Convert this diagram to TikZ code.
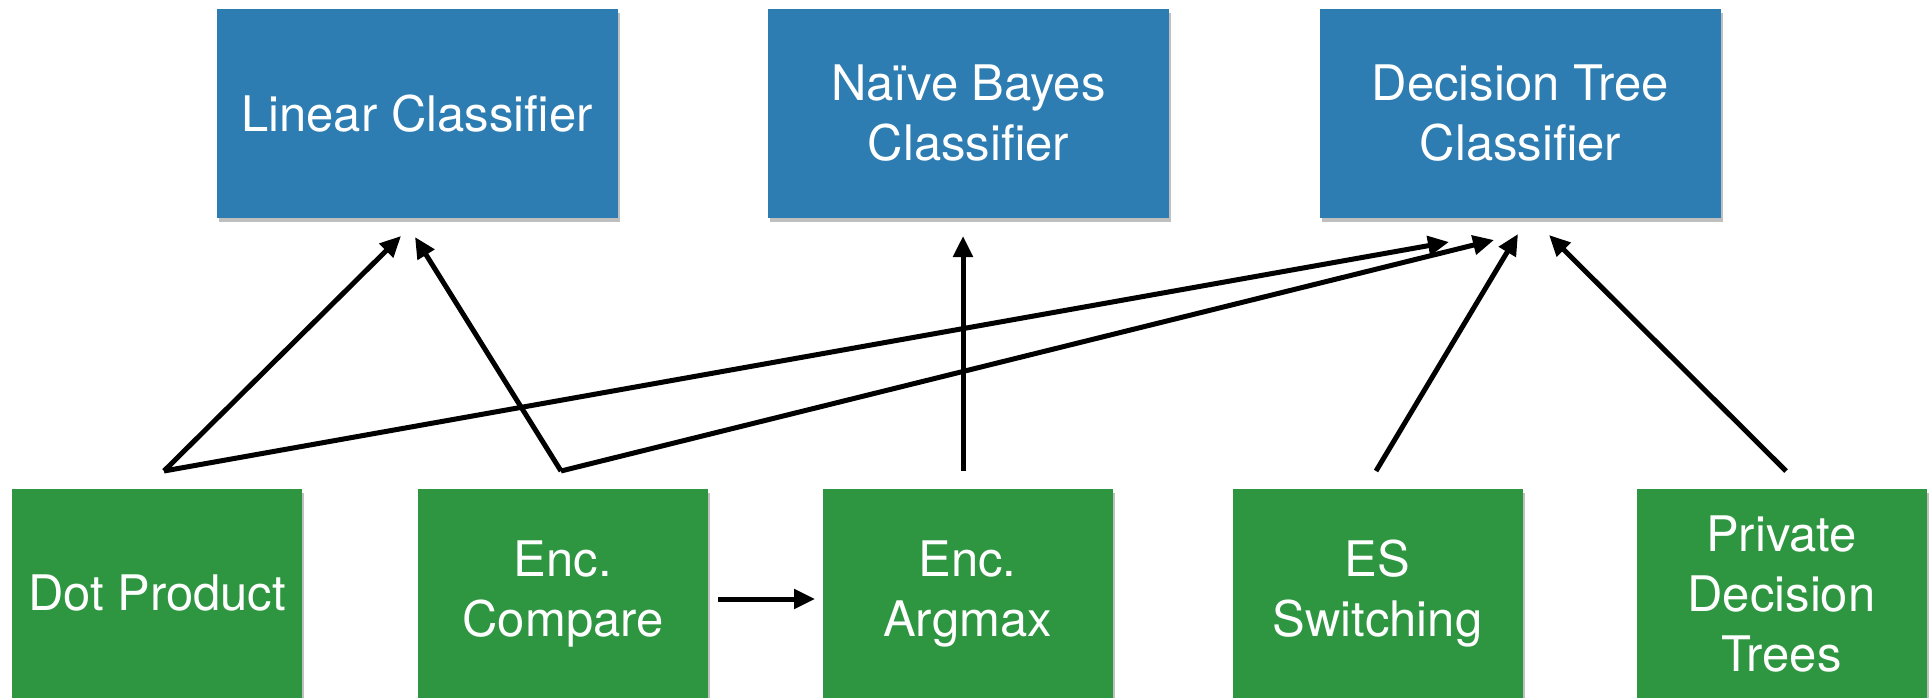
\documentclass[tikz,border=0pt]{standalone}
\usepackage{fontspec}
\setmainfont{TeX Gyre Heros}
\usetikzlibrary{arrows.meta,shadows}
\definecolor{boxblue}{RGB}{45,125,178}
\definecolor{boxgreen}{RGB}{46,150,65}
\tikzset{
  box/.style={rectangle, minimum height=209pt, inner sep=0pt, align=center,
    text=white, font=\fontsize{49}{60}\selectfont,
    drop shadow={fill=black, opacity=0.25, shadow xshift=2pt, shadow yshift=-4pt}},
  clsbox/.style={box, fill=boxblue, minimum width=401pt},
  techbox/.style={box, fill=boxgreen, minimum width=290pt},
  conn/.style={line width=5pt, -{Triangle[length=21pt,width=19pt]}}
}
\begin{document}
\begin{tikzpicture}[x=1pt,y=-1pt]
\useasboundingbox (0,0) rectangle (1932,698);
\fill[white] (0,0) rectangle (1932,698);
% classifiers
\node[clsbox] (lin) at (417,113.5) {Linear Classifier};
\node[clsbox] (nb) at (968.5,113.5) {Naïve Bayes\\Classifier};
\node[clsbox] (dt) at (1520.5,113.5) {Decision Tree\\Classifier};
% techniques
\node[techbox] (dp) at (157,593.5) {Dot Product};
\node[techbox] (ec) at (563,593.5) {Enc.\\Compare};
\node[techbox] (am) at (967.5,593.5) {Enc.\\Argmax};
\node[techbox] (es) at (1377.5,593.5) {ES\\Switching};
\node[techbox] (pdt) at (1781.5,593.5) {Private\\Decision\\Trees};
% free ends
\coordinate (dpS) at (164,471);
\coordinate (ecS) at (561,471);
\coordinate (amS) at (963,471);
\coordinate (esS) at (1376,471);
\coordinate (pdtS) at (1786,471);
\coordinate (linA) at (401,236);
\coordinate (linB) at (415,237);
\coordinate (nbA) at (963,236);
\coordinate (dtA) at (1449,242);
\coordinate (dtB) at (1494,240);
\coordinate (dtC) at (1518,234);
\coordinate (dtD) at (1549,235);
\coordinate (ecR) at (718,599);
\coordinate (amL) at (815,599);
% connectors
\draw[conn] (dpS) -- (linA);
\draw[conn] (ecS) -- (linB);
\draw[conn] (dpS) -- (dtA);
\draw[conn] (ecS) -- (dtB);
\draw[conn] (amS) -- (nbA);
\draw[conn] (esS) -- (dtC);
\draw[conn] (pdtS) -- (dtD);
\draw[conn] (ecR) -- (amL);
\end{tikzpicture}
\end{document}
